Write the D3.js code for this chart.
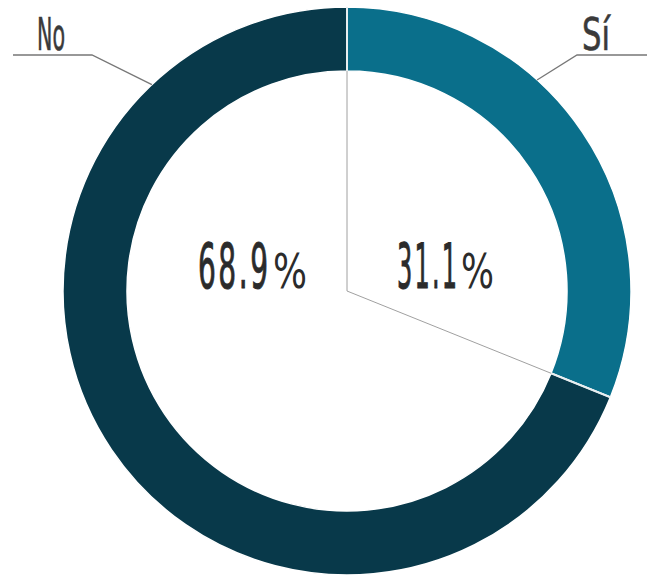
<!DOCTYPE html>
<html><head><meta charset="utf-8">
<script src="https://cdn.jsdelivr.net/npm/d3@7"></script>
<style>html,body{margin:0;padding:0;background:#fff;}svg{display:block;}</style>
</head><body>
<svg id="c" width="647" height="576"></svg>
<script>
const categories = ["Sí", "No"];
const values = [31.1, 68.9];
const valueLabels = ["31.1", "68.9"];
const colors = ["#0a6f8b", "#08394a"];

const svg = d3.select("#c");
const cx = 347, cy = 291, rOuter = 284, rInner = 220;
const g = svg.append("g").attr("transform", `translate(${cx},${cy})`);
const FONT = "'Liberation Sans Narrow', 'DejaVu Sans Condensed', sans-serif";

const pie = d3.pie().sort(null).value(d => d.v);
const data = pie(categories.map((c, i) => ({c, v: values[i], lab: valueLabels[i], col: colors[i]})));
const arc = d3.arc().innerRadius(rInner).outerRadius(rOuter);

g.selectAll("path.slice").data(data).enter().append("path")
  .attr("class", "slice").attr("d", arc).attr("fill", d => d.data.col)
  .attr("stroke", "#fff").attr("stroke-width", 1.5);

const bounds = [data[0].startAngle, data[0].endAngle];
bounds.forEach(a => {
  g.append("line").attr("x1", 0).attr("y1", 0)
    .attr("x2", rInner * Math.sin(a)).attr("y2", -rInner * Math.cos(a))
    .attr("stroke", "#a0a0a0").attr("stroke-width", 1);
  g.append("line").attr("x1", rInner * Math.sin(a)).attr("y1", -rInner * Math.cos(a))
    .attr("x2", rOuter * Math.sin(a)).attr("y2", -rOuter * Math.cos(a))
    .attr("stroke", "#e8eef0").attr("stroke-width", 2);
});

// place text scaled horizontally to a target width, left edge at x
function fitText(parent, str, x, y, w, size, opts) {
  const t = parent.append("text").attr("font-family", FONT).attr("font-size", size)
    .attr("fill", opts.fill).text(str);
  if (opts.stroke) t.attr("stroke", opts.fill).attr("stroke-width", opts.stroke);
  if (opts.ls) t.attr("letter-spacing", opts.ls);
  const nat = t.node().getComputedTextLength() - (opts.ls || 0);
  const s = w / nat;
  t.attr("transform", `translate(${x},${y}) scale(${s},1)`);
  return t;
}

const valPos = [{x: 397, w: 60, px: 461, pw: 33}, {x: 198, w: 70, px: 273, pw: 34}];
data.forEach((d, i) => {
  const P = valPos[i];
  fitText(svg, d.data.lab, P.x, 288, P.w, 62, {fill: "#2b2b2b", stroke: 1, ls: 5});
  fitText(svg, "%", P.px, 288, P.pw, 48, {fill: "#2b2b2b"});
});

const leader = [
  {ang: 42 * Math.PI / 180, elbow: [577, 55], end: [647, 55], tx: 582, tw: 28},
  {ang: -43.4 * Math.PI / 180, elbow: [92, 55], end: [13, 55], tx: 37, tw: 28}
];
data.forEach((d, i) => {
  const L = leader[i];
  const sx = cx + rOuter * Math.sin(L.ang), sy = cy - rOuter * Math.cos(L.ang);
  svg.append("polyline")
    .attr("points", [[sx, sy], L.elbow, L.end].map(p => p.join(",")).join(" "))
    .attr("fill", "none").attr("stroke", "#777").attr("stroke-width", 1.3);
  fitText(svg, d.data.c, L.tx, 50, L.tw, 45, {fill: "#3a3a3a", stroke: 0.6});
});
</script>
</body></html>
